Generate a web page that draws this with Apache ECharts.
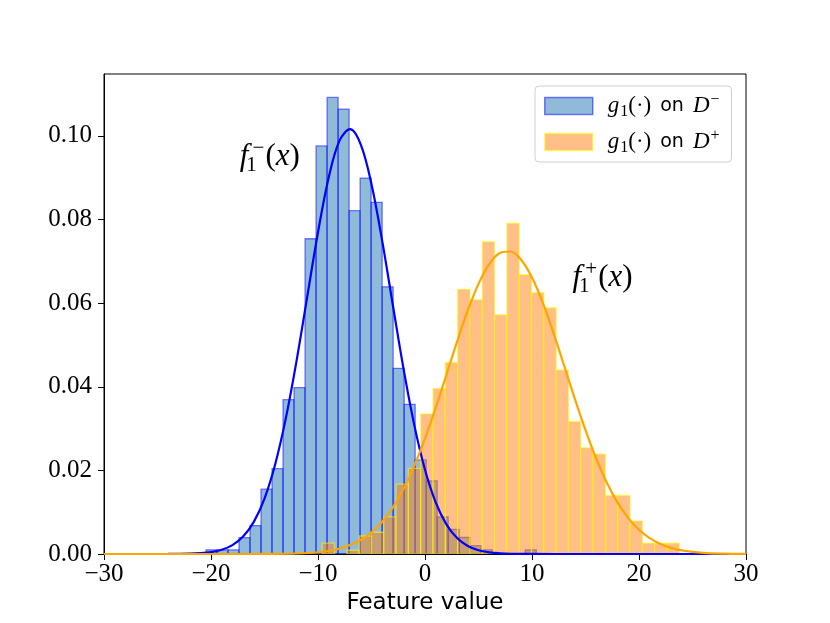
<!DOCTYPE html>
<html>
<head>
<meta charset="utf-8">
<script src="https://cdn.jsdelivr.net/npm/echarts@6/dist/echarts.min.js"></script>
<style>html,body{margin:0;padding:0;background:#fff}#c{width:830px;height:623px}</style>
</head>
<body>
<div id="c"></div>
<script>
// ---------- data ----------
const xTicks = [-30, -20, -10, 0, 10, 20, 30];
const yTicks = [0, 0.02, 0.04, 0.06, 0.08, 0.10];

// histogram of g1 on D- (density)
const negBinStart = -20.47;
const negBinWidth = 1.029;
const negDensity = [0.0010, 0.0010, 0.0010, 0.0039, 0.0068, 0.0155, 0.0204, 0.0369, 0.0398, 0.0754,
                    0.0976, 0.1092, 0.1064, 0.0821, 0.0899, 0.0841, 0.0639, 0.0444, 0.0358, 0.0225,
                    0.0175, 0.0089, 0.0059, 0.0040, 0.0020, 0.0010, 0, 0, 0, 0.0010];

// histogram of g1 on D+ (density)
const posBinStart = -9.61;
const posBinWidth = 1.151;
const posDensity = [0.0026, 0, 0.0009, 0.0043, 0.0052, 0.0089, 0.0167, 0.0205, 0.0335, 0.0396,
                    0.0458, 0.0633, 0.0608, 0.0747, 0.0572, 0.0791, 0.0668, 0.0625, 0.0589, 0.0440,
                    0.0317, 0.0254, 0.0239, 0.0140, 0.0140, 0.0079, 0.0026, 0.0026, 0.0026];

// fitted density curves
const negCurveX = [-30, -26, -24, -22, -21, -20, -19, -18, -17, -16, -15, -14, -13, -12, -11, -10, -9, -8, -7, -6,
                   -5, -4, -3, -2, -1, 0, 1, 2, 3, 4, 5, 6, 7, 8, 10, 14, 30];
const negCurveY = [0, 0.000001, 0.0000095, 0.000075, 0.00019, 0.00045, 0.00101, 0.00213, 0.00417, 0.00769,
                   0.01327, 0.02147, 0.03255, 0.04626, 0.06163, 0.07695, 0.09006, 0.0988, 0.1016, 0.0979,
                   0.08844, 0.07488, 0.05943, 0.04421, 0.03082, 0.02015, 0.01234, 0.00709, 0.00381, 0.00192,
                   0.00091, 0.0004, 0.00017, 0.00006, 0.000006, 0, 0];
const posCurveX = [-30, -20, -15, -12, -10, -8, -6, -5, -4, -3, -2, -1, 0, 1, 2, 3, 4, 5, 6, 7, 8, 9, 10,
                   11, 12, 13, 14, 15, 16, 17, 18, 19, 20, 21, 22, 23, 24, 26, 28, 30];
const posCurveY = [0, 0.000001, 0.000015, 0.00012, 0.00042, 0.00127, 0.00335, 0.00517, 0.00772, 0.01117,
                   0.0156, 0.02111, 0.02763, 0.03498, 0.04285, 0.05079, 0.05824, 0.06461, 0.06935, 0.07201,
                   0.07235, 0.07032, 0.06612, 0.06016, 0.05295, 0.04509, 0.03715, 0.02961, 0.02284, 0.01704,
                   0.0123, 0.00859, 0.0058, 0.00379, 0.0024, 0.00147, 0.00087, 0.00028, 0.000077, 0.00002];

// annotation anchors (data coords)
const annotations = [
  { name: 'neg', x: -14.5, y: 0.0950 },
  { name: 'pos', x: 16.6, y: 0.0660 }
];

// ---------- build ----------
function bins(start, width, dens) {
  return dens.map((d, k) => [start + k * width, start + (k + 1) * width, d]);
}
function pairs(xs, ys) { return xs.map((x, i) => [x, ys[i]]); }

const SERIF = 'Liberation Serif';
const SANS = 'DejaVu Sans';

const BLUE_FILL = 'rgba(31,119,180,0.5)';
const BLUE_EDGE = 'rgba(0,0,255,0.5)';
const ORANGE_FILL = 'rgba(255,127,14,0.5)';
const ORANGE_EDGE = 'rgba(255,255,0,0.55)';

function histRender(fill, stroke) {
  return function (params, api) {
    const h = api.value(2);
    if (!h) return null;
    const p0 = api.coord([api.value(0), h]);
    const p1 = api.coord([api.value(1), 0]);
    return {
      type: 'rect',
      shape: { x: p0[0], y: p0[1], width: p1[0] - p0[0], height: p1[1] - p0[1] },
      style: { fill: fill, stroke: stroke, lineWidth: 1.3 }
    };
  };
}

const legendRich = {
  it: { fontFamily: SERIF, fontStyle: 'italic', fontSize: 23, lineHeight: 28, color: '#000' },
  g: { fontFamily: SERIF, fontStyle: 'italic', fontSize: 23, lineHeight: 28, color: '#000', padding: [0, 1, 0, 0] },
  rm: { fontFamily: SERIF, fontSize: 23, lineHeight: 28, color: '#000' },
  sub: { fontFamily: SERIF, fontSize: 16, lineHeight: 14, verticalAlign: 'bottom', color: '#000' },
  sup: { fontFamily: SERIF, fontSize: 16, lineHeight: 14, verticalAlign: 'top', color: '#000', padding: [0, 0, 0, 1] },
  sf: { fontFamily: SANS, fontSize: 19, lineHeight: 28, color: '#000', padding: [0, 9, 0, 9] }
};

const annRich = {
  f: { fontFamily: SERIF, fontStyle: 'italic', fontSize: 31, lineHeight: 38, color: '#000', padding: [0, 3, 0, 0] },
  it: { fontFamily: SERIF, fontStyle: 'italic', fontSize: 31, lineHeight: 38, color: '#000' },
  rm: { fontFamily: SERIF, fontSize: 31, lineHeight: 38, color: '#000' },
  sub: { fontFamily: SERIF, fontSize: 21, lineHeight: 18, verticalAlign: 'bottom', color: '#000', width: 0.1 },
  sup: { fontFamily: SERIF, fontSize: 21, lineHeight: 18, verticalAlign: 'top', color: '#000', width: 14 }
};

const legendText = {
  neg: '{g|g}{sub|1}{rm|(·)}{sf|on}{it|D}{sup|−}',
  pos: '{g|g}{sub|1}{rm|(·)}{sf|on}{it|D}{sup|+}'
};
const annText = {
  neg: '{f|f}{sub|1}{sup|−}{rm|(}{it|x}{rm|)}',
  pos: '{f|f}{sub|1}{sup|+}{rm|(}{it|x}{rm|)}'
};

const chart = echarts.init(document.getElementById('c'), null, { renderer: 'canvas' });

chart.setOption({
  backgroundColor: '#fff',
  animation: false,
  grid: { left: 104, right: 84, top: 74, bottom: 69, show: true, borderColor: '#000', borderWidth: 1, backgroundColor: 'transparent' },
  legend: {
    orient: 'vertical',
    left: 535,
    top: 86,
    icon: 'rect',
    itemWidth: 48,
    itemHeight: 17,
    itemGap: 8,
    padding: [6, 12, 6, 9],
    backgroundColor: '#fff',
    borderColor: '#d0d0d0',
    borderWidth: 1,
    borderRadius: 4,
    selectedMode: false,
    formatter: n => legendText[n],
    textStyle: { rich: legendRich, padding: [0, 0, 0, 10] },
    data: [
      { name: 'neg', itemStyle: { color: BLUE_FILL, borderColor: BLUE_EDGE, borderWidth: 1.5 } },
      { name: 'pos', itemStyle: { color: ORANGE_FILL, borderColor: ORANGE_EDGE, borderWidth: 1.5 } }
    ]
  },
  xAxis: {
    type: 'value',
    min: xTicks[0],
    max: xTicks[xTicks.length - 1],
    interval: 10,
    name: 'Feature value',
    nameLocation: 'middle',
    nameGap: 35,
    nameTextStyle: { fontFamily: SANS, fontSize: 23, color: '#000' },
    axisLine: { onZero: false, lineStyle: { color: '#000', width: 1 } },
    axisTick: { show: true, inside: false, length: 6, lineStyle: { color: '#000' } },
    axisLabel: {
      margin: 8,
      fontFamily: SERIF,
      fontSize: 25,
      color: '#000',
      formatter: v => String(v).replace('-', '\u2212')
    },
    splitLine: { show: false }
  },
  yAxis: {
    type: 'value',
    min: 0,
    max: 0.1148,
    interval: 0.02,
    axisLine: { show: true, onZero: false, lineStyle: { color: '#000', width: 1 } },
    axisTick: { show: true, inside: false, length: 6, lineStyle: { color: '#000' }, customValues: yTicks },
    axisLabel: {
      margin: 12,
      fontFamily: SERIF,
      fontSize: 25,
      color: '#000',
      customValues: yTicks,
      formatter: v => v.toFixed(2)
    },
    splitLine: { show: false }
  },
  series: [
    {
      name: 'neg', type: 'custom', renderItem: histRender(BLUE_FILL, BLUE_EDGE),
      encode: { x: [0, 1], y: 2 }, data: bins(negBinStart, negBinWidth, negDensity), clip: true, z: 2
    },
    {
      name: 'pos', type: 'custom', renderItem: histRender(ORANGE_FILL, ORANGE_EDGE),
      encode: { x: [0, 1], y: 2 }, data: bins(posBinStart, posBinWidth, posDensity), clip: true, z: 2
    },
    {
      name: 'f1neg', type: 'line', data: pairs(negCurveX, negCurveY), smooth: 0.35, showSymbol: false,
      lineStyle: { color: '#0000ff', width: 2.2 }, itemStyle: { color: '#0000ff' }, z: 3, clip: true
    },
    {
      name: 'f1pos', type: 'line', data: pairs(posCurveX, posCurveY), smooth: 0.35, showSymbol: false,
      lineStyle: { color: '#ffa500', width: 2.2 }, itemStyle: { color: '#ffa500' }, z: 3, clip: true
    },
    {
      name: 'annotations', type: 'scatter', symbolSize: 0, z: 4,
      itemStyle: { color: '#000', opacity: 1 },
      data: annotations.map(a => ({ value: [a.x, a.y], key: a.name })),
      label: {
        show: true, position: 'inside', align: 'center', verticalAlign: 'middle', opacity: 1,
        color: '#000', textBorderWidth: 0, textBorderColor: 'transparent',
        formatter: p => annText[annotations[p.dataIndex].name],
        rich: annRich
      }
    }
  ]
});
</script>
</body>
</html>
